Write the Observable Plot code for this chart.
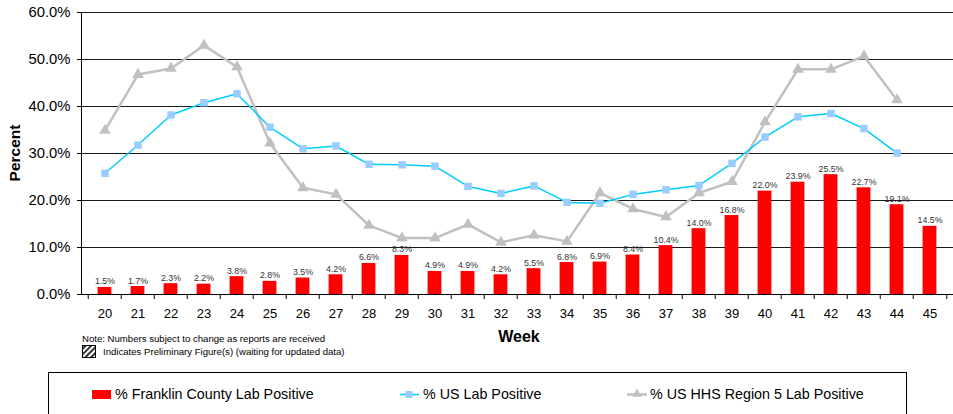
<!DOCTYPE html>
<html><head><meta charset="utf-8">
<script src="https://cdn.jsdelivr.net/npm/d3@7"></script>
<script src="https://cdn.jsdelivr.net/npm/@observablehq/plot@0.6"></script>
<style>
body{margin:0;background:#fff;font-family:"Liberation Sans",Arial,sans-serif;}
#wrap{position:relative;width:953px;height:414px;overflow:hidden;background:#fff;}
#wrap svg{position:absolute;left:0;top:0;}
</style></head><body><div id="wrap"></div>
<script>
const weeks = [20,21,22,23,24,25,26,27,28,29,30,31,32,33,34,35,36,37,38,39,40,41,42,43,44,45];
const franklin = [1.5,1.7,2.3,2.2,3.8,2.8,3.5,4.2,6.6,8.3,4.9,4.9,4.2,5.5,6.8,6.9,8.4,10.4,14.0,16.8,22.0,23.9,25.5,22.7,19.1,14.5];
const usLab = [25.8,31.8,38.2,40.8,42.7,35.6,31.0,31.6,27.7,27.6,27.3,23.0,21.5,23.1,19.6,19.4,21.3,22.3,23.2,27.9,33.5,37.8,38.5,35.3,30.1,null];
const region5 = [34.9,46.8,48.1,53.0,48.4,32.2,22.7,21.3,14.7,12.0,12.0,14.9,11.1,12.6,11.3,21.6,18.2,16.5,21.6,24.0,36.7,47.9,47.9,50.7,41.4,null];
const yTicks = [0,10,20,30,40,50,60];
const seriesNames = ["% Franklin County Lab Positive","% US Lab Positive","% US HHS Region 5 Lab Positive"];

const barData = weeks.map((w,i)=>({week:w, value:franklin[i]}));
const usData = weeks.map((w,i)=>({week:w, value:usLab[i]})).filter(d=>d.value!=null);
const r5Data = weeks.map((w,i)=>({week:w, value:region5[i]})).filter(d=>d.value!=null);

const W = 953, H = 414, ML = 81, MT = 12, MB = 120;
const band = (W - ML) / weeks.length;

const chart = Plot.plot({
  width: W, height: H,
  marginLeft: ML, marginRight: 0, marginTop: MT, marginBottom: MB,
  style: {fontFamily: "'Liberation Sans', Arial, sans-serif", background: "transparent", color: "#000"},
  x: {type: "band", domain: weeks, padding: 0},
  y: {domain: [0, 60]},
  marks: [
    Plot.gridY(yTicks, {stroke: "#1a1a1a", strokeOpacity: 1}),
    Plot.barY(barData, {x: "week", y: "value", fill: "#ff0000", insetLeft: 9.6, insetRight: 9.6}),
    Plot.text(barData, {x: "week", y: "value", text: d => d.value.toFixed(1) + "%", lineAnchor: "bottom", dy: -3, fontSize: 8.8, fill: "#333"}),
    Plot.line(r5Data, {x: "week", y: "value", stroke: "#c0c0c0", strokeWidth: 2.5}),
    Plot.dot(r5Data, {x: "week", y: "value", symbol: "triangle", r: 4.3, fill: "#c0c0c0"}),
    Plot.line(usData, {x: "week", y: "value", stroke: "#00ccff", strokeWidth: 1.5}),
    Plot.dot(usData, {x: "week", y: "value", symbol: "square", r: 4.2, fill: "#99ccff"}),
    Plot.axisY(yTicks, {tickFormat: d => d.toFixed(1) + "%", tickSize: 4, tickPadding: 7, fontSize: 14.8, label: null, stroke: "#000", fill: "#000"}),
    Plot.ruleY([0], {stroke: "#000"}),
    Plot.frame({anchor: "left", stroke: "#000"}),
    Plot.axisX(weeks, {tickSize: 0, tickPadding: 14, fontSize: 13, label: null, fill: "#000"}),
    Plot.axisX(weeks, {tickSize: 5, tickFormat: () => "", dx: -band / 2, label: null, stroke: "#000"}),
    Plot.axisX([45], {tickSize: 5, tickFormat: () => "", dx: band / 2, label: null, stroke: "#000"})
  ]
});
document.getElementById("wrap").appendChild(chart);

// overlay for titles, notes and legend
const ns = "http://www.w3.org/2000/svg";
const ov = d3.create("svg").attr("xmlns", ns).attr("width", W).attr("height", H)
  .style("font-family", "'Liberation Sans', Arial, sans-serif");
ov.append("text").attr("transform", "translate(20,153) rotate(-90)").attr("text-anchor", "middle")
  .attr("font-weight", "bold").attr("font-size", 15.5).text("Percent");
ov.append("text").attr("x", 519).attr("y", 342).attr("text-anchor", "middle")
  .attr("font-weight", "bold").attr("font-size", 16).text("Week");
ov.append("text").attr("x", 82).attr("y", 342).attr("font-size", 9.6).text("Note: Numbers subject to change as reports are received");
const pat = ov.append("defs").append("pattern").attr("id", "hatch").attr("patternUnits", "userSpaceOnUse")
  .attr("width", 4).attr("height", 4).attr("patternTransform", "rotate(45)");
pat.append("rect").attr("width", 4).attr("height", 4).attr("fill", "#fff");
pat.append("rect").attr("width", 2).attr("height", 4).attr("fill", "#333");
ov.append("rect").attr("x", 82.5).attr("y", 345.5).attr("width", 13).attr("height", 12)
  .attr("fill", "url(#hatch)").attr("stroke", "#000");
ov.append("text").attr("x", 103).attr("y", 355).attr("font-size", 9.6).text("Indicates Preliminary Figure(s) (waiting for updated data)");

// legend
ov.append("rect").attr("x", 48.5).attr("y", 372.5).attr("width", 858).attr("height", 80)
  .attr("fill", "none").attr("stroke", "#000");
ov.append("rect").attr("x", 92).attr("y", 390).attr("width", 19).attr("height", 9).attr("fill", "#ff0000");
ov.append("text").attr("x", 115).attr("y", 399).attr("font-size", 14.3).text(seriesNames[0]);
ov.append("line").attr("x1", 400).attr("x2", 419).attr("y1", 394.5).attr("y2", 394.5).attr("stroke", "#00ccff").attr("stroke-width", 1.5);
ov.append("rect").attr("x", 405.5).attr("y", 391).attr("width", 7).attr("height", 7).attr("fill", "#99ccff");
ov.append("text").attr("x", 423).attr("y", 399).attr("font-size", 14.3).text(seriesNames[1]);
ov.append("line").attr("x1", 627).attr("x2", 647).attr("y1", 394.5).attr("y2", 394.5).attr("stroke", "#c0c0c0").attr("stroke-width", 2.5);
ov.append("path").attr("d", d3.symbol(d3.symbolTriangle, 40)()).attr("transform", "translate(637,394)").attr("fill", "#c0c0c0");
ov.append("text").attr("x", 650).attr("y", 399).attr("font-size", 14.3).text(seriesNames[2]);
document.getElementById("wrap").appendChild(ov.node());
</script></body></html>
